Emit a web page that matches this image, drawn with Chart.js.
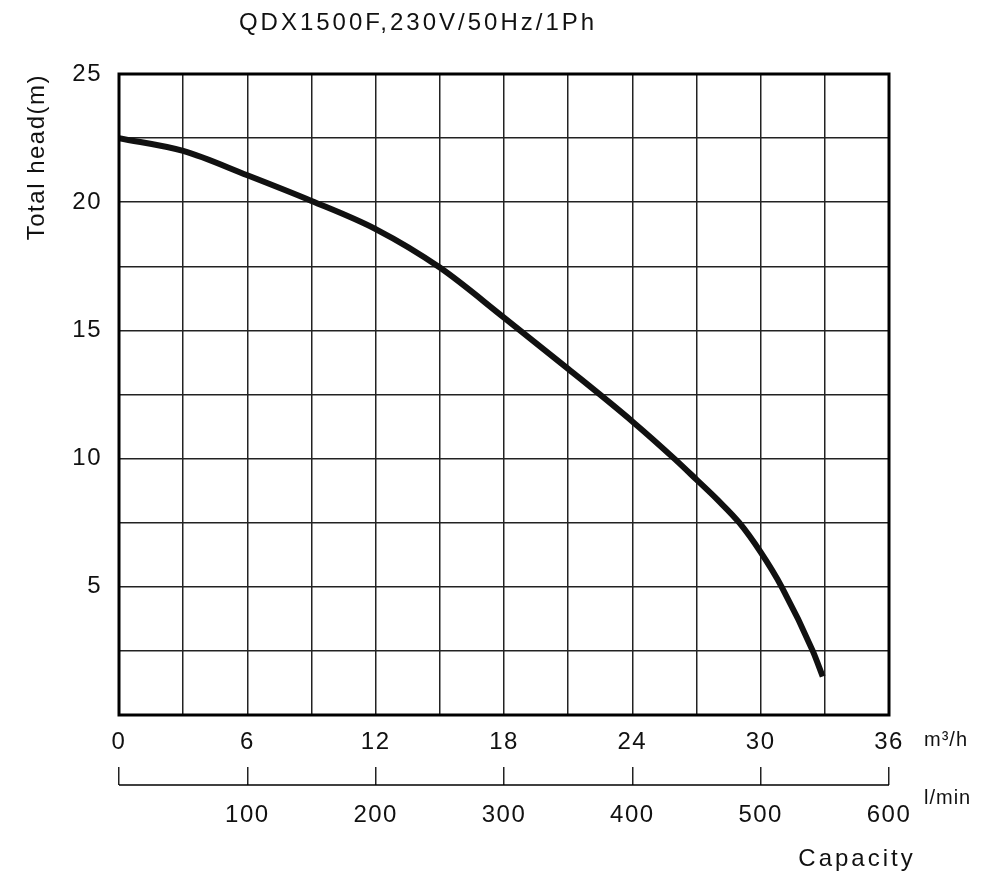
<!DOCTYPE html>
<html>
<head>
<meta charset="utf-8">
<script src="https://cdn.jsdelivr.net/npm/chart.js@4.4.1/dist/chart.umd.min.js"></script>
<style>
  html, body { margin: 0; padding: 0; background: #ffffff; }
  #wrap { width: 1000px; height: 882px; }
</style>
</head>
<body>
<div id="wrap"><canvas id="pumpChart"></canvas></div>
<script>
// Pump curve
const flowM3h = [0, 3, 6, 9, 12, 15, 18, 21, 24, 26, 27, 28, 29, 30, 31, 32.45, 32.9];
const headM = [22.5, 22.0, 21.05, 20.05, 18.95, 17.45, 15.5, 13.5, 11.45, 9.97, 9.18, 8.38, 7.5, 6.35, 4.97, 2.47, 1.5];

// Axis settings
const flowMax = 36;      // m3/h
const headMax = 25;      // m
const litreMax = 600;    // l/min
const titleText = 'QDX1500F,230V/50Hz/1Ph';
const yTitle = 'Total head(m)';
const unitTop = 'm³/h';
const unitBottom = 'l/min';
const capacityText = 'Capacity';

const fontFamily = '"Liberation Sans", Arial, sans-serif';

// Letter spacing for all canvas text, title and frame drawn by hand
const decorPlugin = {
    id: 'decor',
    beforeDraw(chart) {
        chart.ctx.letterSpacing = '1.5px';
    },
    afterDraw(chart) {
        const ctx = chart.ctx;
        const area = chart.chartArea;
        const x2 = chart.scales.x2;

        ctx.save();
        // thick frame round the plot
        ctx.strokeStyle = '#000';
        ctx.lineWidth = 3;
        ctx.strokeRect(area.left, area.top, area.right - area.left, area.bottom - area.top);

        // base line of the l/min scale, under its tick marks
        const lineY = x2.top + x2.options.grid.tickLength;
        ctx.lineWidth = 1.5;
        ctx.beginPath();
        ctx.moveTo(x2.getPixelForValue(0), lineY);
        ctx.lineTo(x2.getPixelForValue(litreMax), lineY);
        ctx.stroke();

        // title
        ctx.fillStyle = '#111';
        ctx.textAlign = 'center';
        ctx.textBaseline = 'middle';
        ctx.letterSpacing = '3px';
        ctx.font = '24px ' + fontFamily;
        ctx.fillText(titleText, 418, 23);

        // units and axis name
        ctx.letterSpacing = '1px';
        ctx.textAlign = 'left';
        ctx.font = '20px ' + fontFamily;
        ctx.fillText(unitTop, 924, 740);
        ctx.fillText(unitBottom, 924, 798);

        ctx.letterSpacing = '3px';
        ctx.textAlign = 'center';
        ctx.font = '24px ' + fontFamily;
        ctx.fillText(capacityText, 857, 859);
        ctx.restore();
    }
};

const ctx = document.getElementById('pumpChart').getContext('2d');

const pumpChart = new Chart(ctx, {
    type: 'line',
    data: {
        datasets: [{
            label: 'Head',
            data: flowM3h.map((q, i) => ({ x: q, y: headM[i] })),
            borderColor: '#111111',
            borderWidth: 6,
            borderCapStyle: 'butt',
            pointRadius: 0,
            fill: false,
            cubicInterpolationMode: 'monotone'
        }]
    },
    options: {
        responsive: true,
        maintainAspectRatio: false,
        animation: false,
        layout: {
            padding: { top: 74, left: 0, right: 111, bottom: 0 }
        },
        plugins: {
            legend: { display: false },
            tooltip: { enabled: false },
            title: { display: false }
        },
        scales: {
            x: {
                type: 'linear',
                position: 'bottom',
                min: 0,
                max: flowMax,
                afterFit(scale) { scale.height = 52; },
                ticks: {
                    stepSize: 3,
                    color: '#111',
                    padding: 13,
                    maxRotation: 0,
                    autoSkip: false,
                    font: { family: fontFamily, size: 24 },
                    callback: v => (v % 6 === 0 ? v : '')
                },
                grid: { color: '#222', lineWidth: 1.5, drawTicks: false },
                border: { display: false }
            },
            x2: {
                type: 'linear',
                position: 'bottom',
                min: 0,
                max: litreMax,
                afterFit(scale) { scale.height = 115; },
                ticks: {
                    stepSize: 100,
                    color: '#111',
                    padding: 16,
                    maxRotation: 0,
                    autoSkip: false,
                    font: { family: fontFamily, size: 24 },
                    callback: v => (v === 0 ? '' : v)
                },
                grid: {
                    drawOnChartArea: false,
                    drawTicks: true,
                    tickLength: 18,
                    color: '#222',
                    lineWidth: 1.5
                },
                border: { display: false }
            },
            y: {
                type: 'linear',
                min: 0,
                max: headMax,
                afterFit(scale) { scale.width = 119; },
                ticks: {
                    stepSize: 2.5,
                    color: '#111',
                    padding: 17,
                    autoSkip: false,
                    font: { family: fontFamily, size: 24 },
                    callback: v => (v % 5 === 0 && v !== 0 ? v : '')
                },
                grid: { color: '#222', lineWidth: 1.5, drawTicks: false },
                border: { display: false },
                title: {
                    display: true,
                    text: yTitle,
                    align: 'end',
                    color: '#111',
                    padding: { top: 23, bottom: 0 },
                    font: { family: fontFamily, size: 24 }
                }
            }
        }
    },
    plugins: [decorPlugin]
});
</script>
</body>
</html>
